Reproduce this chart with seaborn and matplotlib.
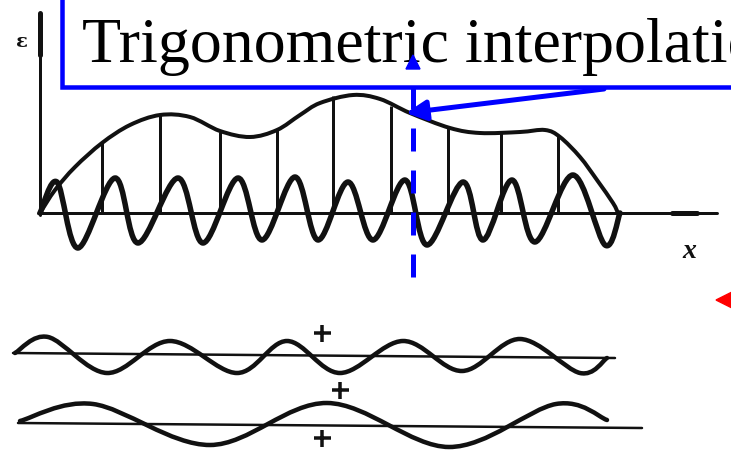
import numpy as np
import matplotlib
matplotlib.use("Agg")
import matplotlib.pyplot as plt
import seaborn as sns
from matplotlib.path import Path
from matplotlib.patches import PathPatch, Rectangle, Polygon, FancyArrowPatch

# --- values (pixel space, y grows downward) ---
# envelope (the interpolating curve) on the top panel
env_x = [40, 55, 75, 102, 130, 160, 190, 220, 250, 277, 300, 320, 353, 380,
         410, 450, 480, 520, 545, 560, 580, 597, 613, 618]
env_y = [213, 190, 167, 143, 125, 115, 117, 131, 137, 130, 115, 103, 95, 99,
         113, 128, 133, 132, 130, 137, 157, 180, 203, 213]

# sample stems from the axis up to the envelope
stem_x = [102, 160, 220, 277, 333, 391, 448, 501, 558]
stem_top = [143, 115, 132, 130, 96, 106, 128, 133, 136]

# fast oscillation: origin, then alternating peaks / troughs, then end
fast_x = [40, 57, 78, 115, 138, 178, 203, 238, 262, 295, 318, 348, 373,
          405, 427, 463, 483, 512, 535, 573, 605, 620]
fast_y = [213, 182, 248, 178, 243, 178, 243, 178, 240, 177, 240, 182, 240,
          180, 245, 182, 240, 180, 242, 175, 245, 213]

# lower panel: short-wavelength component
w1_x = [15, 48, 107, 170, 237, 287, 340, 403, 462, 520, 580, 607]
w1_y = [353, 337, 373, 341, 373, 341, 373, 341, 371, 339, 373, 358]
w1_axis_x = [13, 615]
w1_axis_y = [353, 358]

# lower panel: long-wavelength component
w2_x = [20, 93, 210, 327, 449, 556, 607]
w2_y = [421, 404, 445, 403, 447, 404, 420]
w2_axis_x = [18, 642]
w2_axis_y = [423, 428]

plus_x = [322, 340, 322]
plus_y = [333, 390, 438]

title_text = "Trigonometric interpolation"

W, H = 731, 455
INK = "#111111"
BLUE = "#0000ff"


def smooth_path(xs, ys):
    # Catmull-Rom through the read points, drawn as cubic Bezier segments
    pts = np.column_stack([xs, ys]).astype(float)
    ext = np.vstack([pts[0], pts, pts[-1]])
    verts = [pts[0]]
    codes = [Path.MOVETO]
    for i in range(1, len(ext) - 2):
        p0, p1, p2, p3 = ext[i - 1], ext[i], ext[i + 1], ext[i + 2]
        verts += [p1 + (p2 - p0) / 6, p2 - (p3 - p1) / 6, p2]
        codes += [Path.CURVE4] * 3
    return Path(verts, codes)


def px(v):
    # pixel width -> points at dpi 100
    return v * 0.72


sns.set_theme(style="white")
fig = plt.figure(figsize=(W / 100, H / 100), dpi=100)
ax = fig.add_axes([0, 0, 1, 1])
ax.set_xlim(0, W)
ax.set_ylim(H, 0)
ax.axis("off")

# top panel axes
sns.lineplot(x=[40, 40], y=[13, 215], color=INK, lw=px(3), ax=ax, estimator=None, sort=False)
sns.lineplot(x=[40, 40], y=[13, 55], color=INK, lw=px(5), ax=ax, estimator=None, sort=False)
sns.lineplot(x=[38, 717], y=[213, 213], color=INK, lw=px(3), ax=ax, estimator=None, sort=False)
sns.lineplot(x=[672, 697], y=[213, 213], color=INK, lw=px(5), ax=ax, estimator=None, sort=False)

ax.vlines(stem_x, stem_top, 213, color=INK, lw=px(3))
ax.add_patch(PathPatch(smooth_path(env_x, env_y), fill=False, ec=INK, lw=px(4),
                       capstyle="round", joinstyle="round"))
ax.add_patch(PathPatch(smooth_path(fast_x, fast_y), fill=False, ec=INK, lw=px(5.5),
                       capstyle="round", joinstyle="round"))

ax.text(22, 42, "\u03b5", fontsize=14, fontweight="bold", family="DejaVu Serif",
        ha="center", va="center", color=INK)
ax.text(689, 252, "x", fontsize=20, fontweight="bold", style="italic",
        family="Liberation Serif", ha="center", va="center", color=INK)

# lower panel
sns.lineplot(x=w1_axis_x, y=w1_axis_y, color=INK, lw=px(2.5), ax=ax, estimator=None, sort=False)
sns.lineplot(x=w2_axis_x, y=w2_axis_y, color=INK, lw=px(2.5), ax=ax, estimator=None, sort=False)
ax.add_patch(PathPatch(smooth_path(w1_x, w1_y), fill=False, ec=INK, lw=px(4.5), capstyle="round"))
ax.add_patch(PathPatch(smooth_path(w2_x, w2_y), fill=False, ec=INK, lw=px(4.5), capstyle="round"))
sns.scatterplot(x=plus_x, y=plus_y, marker="+", s=px(17) ** 2, color=INK,
                linewidth=px(3.5), ax=ax, legend=False)

# blue annotation box and title
ax.add_patch(Rectangle((62, -30), 720, 117, fc="white", ec=BLUE, lw=px(4.5), zorder=3))
ax.text(82, 62, title_text, fontsize=46, family="Liberation Serif", color="black",
        ha="left", va="baseline", zorder=4)

# arrow from the box to the curve
ax.add_patch(FancyArrowPatch((604, 89), (406, 113), arrowstyle="-|>,head_length=0.6,head_width=0.3",
                             mutation_scale=20, color=BLUE, lw=px(5), shrinkA=0, shrinkB=0, zorder=5))

# dashed vertical marker with upward head
ax.plot([413, 413], [277, 68], color=BLUE, lw=px(5), dashes=(4.6, 3.8), zorder=5)
ax.add_patch(Polygon([[413, 55], [406, 69], [420, 69]], closed=True, color=BLUE, zorder=5))

# red pointer at the right edge
ax.add_patch(Polygon([[716, 300], [740, 288], [740, 312]], closed=True, color="red", zorder=5))

fig.savefig("out.png", dpi=100)
